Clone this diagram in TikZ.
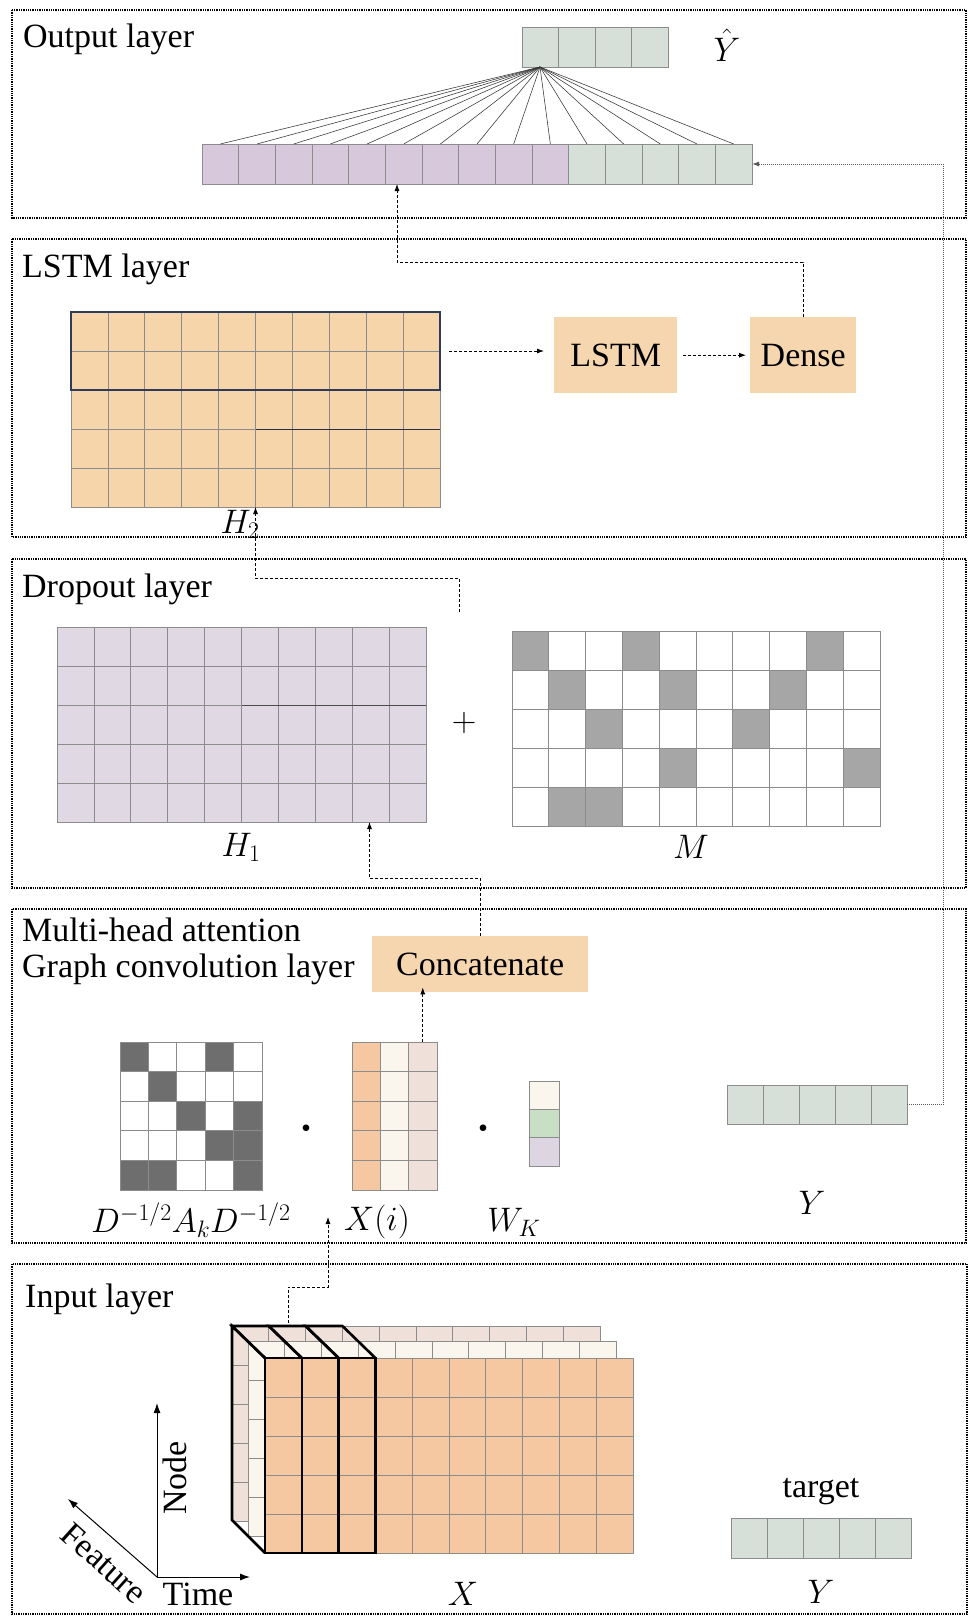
\RequirePackage{fix-cm}
\documentclass[tikz,border=0pt]{standalone}
\usepackage{fontspec}
\setmainfont{Liberation Serif}
\usetikzlibrary{arrows.meta,positioning,calc}

\definecolor{purp}{HTML}{D8C8DC}
\definecolor{sage}{HTML}{D6E0D8}
\definecolor{peach}{HTML}{F5D5A9}
\definecolor{boxpeach}{HTML}{F6D6AE}
\definecolor{lilac}{HTML}{E0D8E2}
\definecolor{midgray}{HTML}{A6A6A6}
\definecolor{darkcell}{HTML}{6E6E6E}
\definecolor{apricot}{HTML}{F5C8A2}
\definecolor{cream}{HTML}{FAF6EE}
\definecolor{blush}{HTML}{EFE1D9}
\definecolor{mint}{HTML}{C8DFC6}
\definecolor{mauve}{HTML}{DDD6E2}
\definecolor{cellgray}{HTML}{8C8C8C}
\definecolor{navy}{HTML}{2F3B5A}

% name, x, y, width, height, cols, rows, fill
\newcommand{\cellgrid}[8]{%
  \node[cellbox, fill=#8, minimum width=#4pt, minimum height=#5pt] (#1) at (#2,#3) {};
  \pgfmathsetmacro\cw{#4/#6}\pgfmathsetmacro\ch{#5/#7}
  \draw[cellrule, shift={(#2,#3)}, xstep=\cw pt, ystep=\ch pt] (0,0) grid (#4,#5);
}

\begin{document}
\begin{tikzpicture}[x=1pt, y=-1pt,
  cellbox/.style={draw=cellgray, line width=0.7pt, anchor=north west, inner sep=0pt, outer sep=0pt},
  cellrule/.style={draw=cellgray, line width=0.7pt},
  layerbox/.style={densely dotted, line width=1.3pt},
  ttl/.style={anchor=base west, inner sep=0pt, font=\fontsize{34}{40}\selectfont},
  lbl/.style={inner sep=0pt, font=\fontsize{34}{40}\selectfont},
  blk/.style={anchor=north west, fill=boxpeach, inner sep=0pt, font=\fontsize{34}{40}\selectfont},
  arr/.style={densely dashed, line width=0.8pt, -{Latex[length=7pt, width=5pt]}},
  farr/.style={densely dotted, draw=black!65, line width=1pt, -{Latex[length=7pt, width=5pt]}},
  fan/.style={line width=0.55pt, black!80},
  slab/.style={line width=2.6pt, line join=miter},
  axisarr/.style={line width=1pt, -{Latex[length=10pt, width=7pt]}}
]
\useasboundingbox (0,0) rectangle (968,1618);

% layer frames
\draw[layerbox] (12,10) rectangle (966,218);
\draw[layerbox] (12,239) rectangle (966,537);
\draw[layerbox] (12,559) rectangle (966,888);
\draw[layerbox] (12,909) rectangle (966,1243);
\draw[layerbox] (12,1264) rectangle (967,1614);

\node[ttl] (outttl) at (23,47) {Output layer};
\node[ttl] (lstmttl) at (22,277) {LSTM layer};
\node[ttl] (dropttl) at (22,597) {Dropout layer};
\node[ttl] (mhttl) at (22,941) {Multi-head attention};
\node[ttl] (gcttl) at (22,977) {Graph convolution layer};
\node[ttl] (inttl) at (25,1307) {Input layer};

% output layer
\cellgrid{yhat}{522}{27}{146}{40}{4}{1}{sage}
\node[lbl] (yhatlbl) at (727,45) {$\hat{Y}$};
\cellgrid{outp}{202}{144}{366.7}{40}{10}{1}{purp}
\cellgrid{outg}{568.7}{144}{183.3}{40}{5}{1}{sage}
\coordinate (fanpt) at ($(yhat.south west)+(18,0)$);
\foreach \i in {1,...,10}
  \draw[fan] (fanpt) -- ($(outp.north west)!{(\i-0.5)/10}!(outp.north east)$);
\foreach \i in {1,...,5}
  \draw[fan] (fanpt) -- ($(outg.north west)!{(\i-0.5)/5}!(outg.north east)$);
\coordinate (outin) at (397,184);

% LSTM layer
\cellgrid{h2}{71}{312}{369}{195}{10}{5}{peach}
\draw[navy!80!black, line width=1pt] (256,429) -- (440,429);
\node[cellbox, draw=navy, line width=1.6pt, minimum width=369pt, minimum height=78pt] (h2top) at (71,312) {};
\node[lbl] (h2lbl) at (240,524) {$H_2$};
\node[blk, minimum width=123pt, minimum height=76pt] (lstm) at (554,317) {LSTM};
\node[blk, minimum width=106pt, minimum height=76pt] (dense) at (750,317) {Dense};

\draw[arr] ([xshift=9pt]h2top.east) -- ([xshift=-10pt]lstm.west |- h2top.east);
\draw[arr] ([xshift=6pt]lstm.east) -- ([xshift=-4pt]dense.west);
\draw[arr] (dense.north) -- ++(0,-55) -| (outin);

% dropout layer
\cellgrid{h1}{57}{627}{369}{195}{10}{5}{lilac}
\draw[black!70, line width=1pt] (242,705) -- (426,705);
\node[lbl] (h1lbl) at (241,847) {$H_1$};
\node[lbl] (plus) at (464,723) {$+$};
\cellgrid{m}{512}{631}{368}{195}{10}{5}{white}
\foreach \c/\r in {1/1,4/1,9/1,2/2,5/2,8/2,3/3,7/3,5/4,10/4,2/5,3/5}
  \filldraw[fill=midgray, draw=cellgray, line width=0.7pt]
    ($(m.north west)+({(\c-1)*36.8},{(\r-1)*39})$) rectangle ++(36.8,39);
\node[lbl] (mlbl) at (691,847) {$M$};
\coordinate (dropsrc) at (459,612);
\draw[arr] (dropsrc) -- ++(0,-34) -| (h2.south);

% graph convolution layer
\node[blk, minimum width=216pt, minimum height=56pt] (concat) at (372,936) {Concatenate};
\cellgrid{adj}{120}{1042}{142}{148}{5}{5}{white}
\foreach \c/\r in {1/1,4/1,2/2,3/3,5/3,4/4,5/4,1/5,2/5,5/5}
  \filldraw[fill=darkcell, draw=cellgray, line width=0.7pt]
    ($(adj.north west)+({(\c-1)*28.4},{(\r-1)*29.6})$) rectangle ++(28.4,29.6);
\node[lbl, font=\fontsize{17}{20}\selectfont] (dot1) at (306,1129) {$\bullet$};
\cellgrid{xi1}{352}{1042}{28.3}{148}{1}{5}{apricot}
\cellgrid{xi2}{380.3}{1042}{28.3}{148}{1}{5}{cream}
\cellgrid{xi3}{408.6}{1042}{28.3}{148}{1}{5}{blush}
\node[lbl, font=\fontsize{17}{20}\selectfont] (dot2) at (483,1129) {$\bullet$};
\cellgrid{wk1}{529}{1081}{30}{28.3}{1}{1}{cream}
\cellgrid{wk2}{529}{1109.3}{30}{28.3}{1}{1}{mint}
\cellgrid{wk3}{529}{1137.6}{30}{28.3}{1}{1}{mauve}
\node[lbl] (adjlbl) at (191,1220) {$D^{-1/2}A_kD^{-1/2}$};
\node[lbl] (xilbl) at (377,1222) {$X(i)$};
\node[lbl] (wklbl) at (514,1222) {$W_K$};
\cellgrid{ymid}{727}{1085}{180}{39}{5}{1}{sage}
\node[lbl] (ymidlbl) at (812,1203) {$Y$};

\draw[arr] (xi3.north) -- ([yshift=5pt]xi3.north |- concat.south);
\draw[arr] (concat.north) -- ++(0,-58) -| ([xshift=128pt]h1.south);
\draw[farr] (ymid.east) -- ++(36,0) |- (outg.east);

% input layer
\cellgrid{back}{232}{1326}{368}{195}{10}{5}{blush}
\cellgrid{mid}{248}{1341}{368}{195}{10}{5}{cream}
\cellgrid{front}{265}{1358}{368}{195}{10}{5}{apricot}
\foreach \k in {0,1,2} {
  \draw[slab] ($(front.north west)+({36.8*\k},0)$) rectangle ++(36.8,195);
  \draw[slab] ($(front.north west)+({36.8*\k},0)$) -- ++(-33,-32) -- ++(36.8,0) -- ++(33,32);
}
\draw[slab] (front.north west) -- ++(-33,-32) -- ++(0,194) -- (front.south west);
\node[lbl] (xlbl) at (463,1594) {$X$};

\coordinate (tensrc) at (288,1323);
\coordinate (xin) at (328,1217);
\draw[arr] (tensrc) -- ++(0,-36) -| (xin);

\coordinate (orig) at (157,1577);
\coordinate (nodetip) at (157,1403);
\coordinate (timetip) at (250,1577);
\coordinate (feattip) at (68,1499);
\draw[axisarr] (orig) -- (nodetip);
\draw[axisarr] (orig) -- (timetip);
\draw[axisarr] (orig) -- (feattip);
\node[lbl, rotate=90] (nodelbl) at (175,1478) {Node};
\node[lbl, rotate=-42] (featlbl) at (104,1563) {Feature};
\node[lbl] (timelbl) at (198,1594) {Time};

\node[lbl] (tgtlbl) at (821,1492) {target};
\cellgrid{ytgt}{731}{1518}{180}{40}{5}{1}{sage}
\node[lbl] (ytgtlbl) at (821,1592) {$Y$};
\end{tikzpicture}
\end{document}
